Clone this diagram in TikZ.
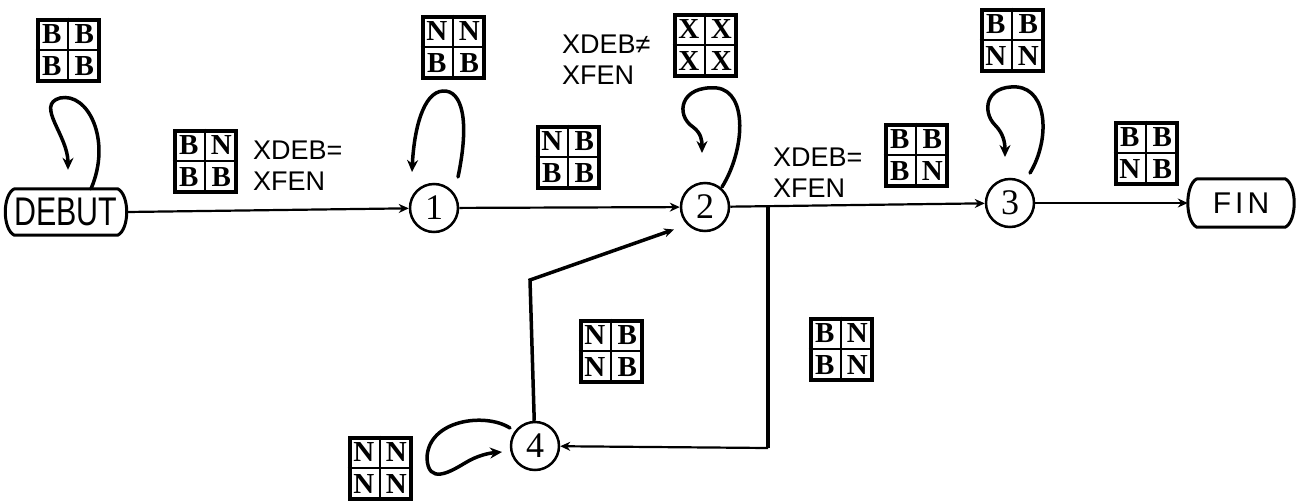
\documentclass[tikz,border=0pt]{standalone}
\usepackage{fontspec}
\setmainfont{Liberation Serif}
\setsansfont{Liberation Sans}
\usetikzlibrary{arrows.meta,calc}
\tikzset{
 gridbox/.style={draw, line width=4pt, minimum size=61pt, inner sep=0pt},
 gridline/.style={line width=2.8pt},
 cell/.style={inner sep=0pt, font=\fontsize{29}{29}\selectfont\bfseries},
 stnode/.style={circle, draw, line width=2.5pt, minimum size=48pt, inner sep=0pt, font=\fontsize{36}{36}\selectfont},
 termbox/.style={inner sep=0pt, minimum height=46pt, font=\sffamily\fontsize{40}{40}\selectfont},
 termline/.style={line width=3pt, line join=round, line cap=round},
 flow/.style={line width=2.2pt, -{Stealth[length=10pt,width=9pt]}},
 selfloop/.style={line width=3.5pt, line cap=round, -{Stealth[length=12pt,width=11pt]}},
 cond/.style={align=left, inner sep=0pt, font=\sffamily\fontsize{27}{31}\selectfont},
}
\newcommand{\qgrid}[6]{%
  \node[gridbox] (#1) at (#2) {};
  \draw[gridline] (#1.north) -- (#1.south);
  \draw[gridline] (#1.west) -- (#1.east);
  \node[cell] (#1a) at ($(#1.center)!0.5!(#1.north west)$) {#3};
  \node[cell] (#1b) at ($(#1.center)!0.5!(#1.north east)$) {#4};
  \node[cell] (#1c) at ($(#1.center)!0.5!(#1.south west)$) {#5};
  \node[cell] (#1d) at ($(#1.center)!0.5!(#1.south east)$) {#6};
}
\begin{document}
\begin{tikzpicture}[x=1pt,y=-1pt]
\useasboundingbox (0,0) rectangle (1308,501);
% terminals
\node[termbox, minimum width=92pt] (debut) at (66,212) {\scalebox{0.76}[1]{DEBUT}};
\draw[termline] (debut.north west) -- (debut.north east)
  .. controls +(12,6) and +(12,-6) .. (debut.south east) -- (debut.south west)
  .. controls +(-12,-6) and +(-12,6) .. (debut.north west);
\node[termbox, minimum width=88pt, minimum height=48pt, font=\sffamily\fontsize{30}{30}\selectfont] (fin) at (1241,203) {F\kern4pt I\kern4pt N};
\draw[termline] (fin.north west) -- (fin.north east)
  .. controls +(12,6) and +(12,-6) .. (fin.south east) -- (fin.south west)
  .. controls +(-12,-6) and +(-12,6) .. (fin.north west);
% states
\node[stnode] (n1) at (434,208) {1};
\node[stnode] (n2) at (705,207) {2};
\node[stnode] (n3) at (1010,203) {3};
\node[stnode] (n4) at (535,446) {4};
% main flow
\draw[flow] ($(debut.east)+(9,0)$) -- (n1);
\draw[flow] (n1) -- (n2);
\draw[flow] (n2) -- (n3);
\draw[flow] (n3) -- ($(fin.west)+(-9,0)$);
% branch to 4
\coordinate (br) at (768,206);
\coordinate (bc) at (768,448);
\draw[line width=4.5pt] (br) -- (bc);
\draw[flow] (bc) -- (n4);
% return 4 -> 2
\coordinate (c4) at (530,280);
\draw[flow, line width=3.5pt, shorten >=14pt] (n4) -- (c4) -- (n2.225);
% self loops
\draw[selfloop] ($(debut.north)+(25,0)$) .. controls (112,140) and (88,92) .. (60,98)
  .. controls (35,105) and (68,135) .. ($(debut.north)+(2,-19)$);
\draw[selfloop] ($(n1)+(24,-31)$) .. controls (470,120) and (462,90) .. (443,91)
  .. controls (423,92) and (414,130) .. ($(n1)+(-22,-36)$);
\draw[selfloop] ($(n2)+(17,-20)$) .. controls (745,150) and (748,92) .. (717,88)
  .. controls (680,85) and (675,115) .. (693,127)
  .. controls (701,133) and (702,140) .. ($(n2)+(-3,-54)$);
\draw[selfloop] ($(n3)+(20,-30)$) .. controls (1050,140) and (1048,90) .. (1017,87)
  .. controls (985,85) and (982,112) .. (995,125)
  .. controls (1003,133) and (1005,142) .. ($(n3)+(-5,-46)$);
\draw[selfloop] ($(n4)+(-25,-18)$) .. controls (485,412) and (428,420) .. (427,458)
  .. controls (428,485) and (450,472) .. (465,463)
  .. controls (478,455) and (490,453) .. ($(n4)+(-33,6)$);
% grids
\qgrid{g0}{68,50}{B}{B}{B}{B}
\qgrid{g1}{205,161}{B}{N}{B}{B}
\qgrid{g2}{453,47}{N}{N}{B}{B}
\qgrid{g3}{568,157}{N}{B}{B}{B}
\qgrid{g4}{705,45}{X}{X}{X}{X}
\qgrid{g5}{916,155}{B}{B}{B}{N}
\qgrid{g6}{1012,40}{B}{B}{N}{N}
\qgrid{g7}{1146,153}{B}{B}{N}{B}
\qgrid{g8}{611,351}{N}{B}{N}{B}
\qgrid{g9}{841,349}{B}{N}{B}{N}
\qgrid{g10}{380,468}{N}{N}{N}{N}
% conditions
\node[cond, anchor=west] (t1) at (253,166) {XDEB=\\XFEN};
\node[cond, anchor=west] (t2) at (562,60) {XDEB≠\\XFEN};
\node[cond, anchor=west] (t3) at (773,173) {XDEB=\\XFEN};
\end{tikzpicture}
\end{document}
